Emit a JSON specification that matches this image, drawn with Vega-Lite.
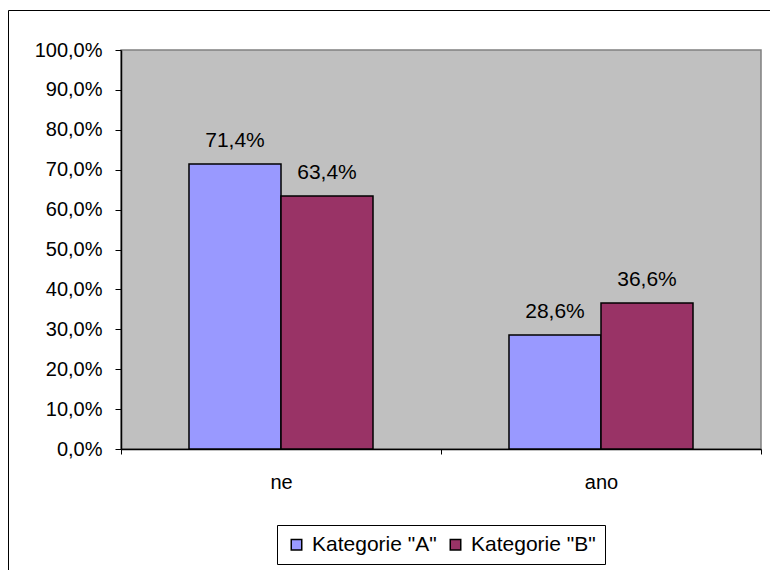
{
  "$schema": "https://vega.github.io/schema/vega-lite/v6.json",
  "width": 640,
  "height": 399,
  "autosize": "none",
  "padding": {"left": 121, "top": 50, "right": 9, "bottom": 121},
  "background": "white",
  "data": {
    "values": [
      {"odpoved": "ne", "kategorie": "Kategorie \"A\"", "podil": 0.714},
      {"odpoved": "ne", "kategorie": "Kategorie \"B\"", "podil": 0.634},
      {"odpoved": "ano", "kategorie": "Kategorie \"A\"", "podil": 0.286},
      {"odpoved": "ano", "kategorie": "Kategorie \"B\"", "podil": 0.366}
    ]
  },
  "layer": [
    {
      "data": {"values": [{"f": 0}]},
      "mark": {"type": "rule", "opacity": 0},
      "encoding": {
        "x": {
          "datum": 0,
          "type": "quantitative",
          "scale": {"domain": [0, 1], "range": [-113, 660], "nice": false, "zero": false},
          "axis": {"orient": "top", "offset": 40, "domain": true, "domainColor": "#000000", "domainWidth": 1, "ticks": false, "labels": false, "grid": false, "title": null}
        },
        "y": {
          "datum": 0,
          "type": "quantitative",
          "scale": {"domain": [0, 1], "range": [530, -40], "nice": false, "zero": false},
          "axis": {"orient": "left", "offset": 113, "domain": true, "domainColor": "#000000", "domainWidth": 1, "ticks": false, "labels": false, "grid": false, "title": null}
        }
      }
    },
    {
      "encoding": {
        "x": {
          "field": "odpoved",
          "type": "nominal",
          "sort": ["ne", "ano"],
          "scale": {"paddingInner": 0, "paddingOuter": 0},
          "axis": {
            "orient": "bottom",
            "title": null,
            "labelAngle": 0,
            "tickBand": "extent",
            "tickSize": 5,
            "tickColor": "#000000",
            "domainColor": "#000000",
            "labelPadding": 18,
            "labelFontSize": 20,
            "labelColor": "#000000",
            "grid": false
          }
        },
        "xOffset": {
          "field": "kategorie",
          "type": "nominal",
          "scale": {"paddingInner": 0, "paddingOuter": 0.739}
        },
        "y": {
          "field": "podil",
          "type": "quantitative",
          "scale": {"domain": [0, 1], "nice": false},
          "axis": {
            "orient": "left",
            "title": null,
            "values": [0, 0.1, 0.2, 0.3, 0.4, 0.5, 0.6, 0.7, 0.8, 0.9, 1],
            "format": ".1%",
            "grid": false,
            "tickSize": 6,
            "tickColor": "#000000",
            "domainColor": "#000000",
            "labelPadding": 13,
            "labelFontSize": 20,
            "labelColor": "#000000"
          }
        }
      },
      "layer": [
        {
          "mark": {"type": "bar", "stroke": "#000000", "strokeWidth": 1.5},
          "encoding": {
            "color": {
              "field": "kategorie",
              "type": "nominal",
              "scale": {"domain": ["Kategorie \"A\"", "Kategorie \"B\""], "range": ["#9999FF", "#993366"]},
              "legend": {
                "title": null,
                "orient": "none",
                "direction": "horizontal",
                "legendX": 156,
                "legendY": 475,
                "symbolType": "square",
                "symbolSize": 110,
                "symbolStrokeColor": "#000000",
                "symbolStrokeWidth": 1.5,
                "symbolOpacity": 1,
                "labelFontSize": 21,
                "labelColor": "#000000",
                "labelOffset": 5,
                "columnPadding": 8,
                "padding": 9,
                "strokeColor": "#000000",
                "fillColor": "#FFFFFF"
              }
            }
          }
        },
        {
          "mark": {"type": "text", "baseline": "alphabetic", "align": "center", "dy": -17, "fontSize": 21, "color": "#000000"},
          "encoding": {
            "text": {"field": "podil", "type": "quantitative", "format": ".1%"}
          }
        }
      ]
    }
  ],
  "resolve": {
    "scale": {"x": "independent", "y": "independent"},
    "axis": {"x": "independent", "y": "independent"}
  },
  "config": {
    "font": "Liberation Sans",
    "locale": {
      "number": {"decimal": ",", "thousands": " ", "grouping": [3], "currency": ["", " Kč"]}
    },
    "view": {"fill": "#C0C0C0", "stroke": "#808080", "strokeWidth": 1.5},
    "axis": {"labelFont": "Liberation Sans", "domainWidth": 1.5},
    "legend": {"labelFont": "Liberation Sans"}
  }
}
